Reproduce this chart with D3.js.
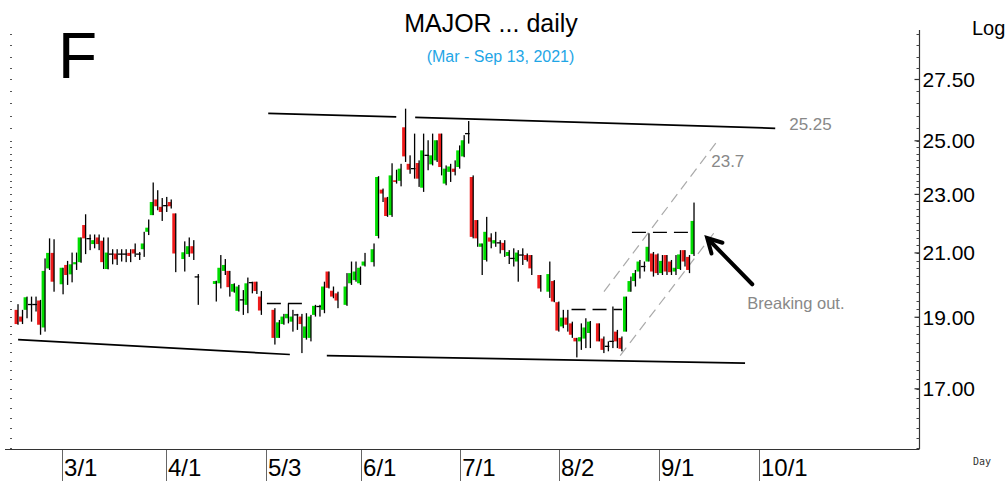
<!DOCTYPE html>
<html><head><meta charset="utf-8">
<script src="https://cdn.jsdelivr.net/npm/d3@7"></script>
<style>body{margin:0;background:#fff;}svg{display:block;}</style>
</head><body>
<svg id="c" width="1008" height="481"></svg>
<script>
// ---- data (one entry per day slot; null = no bar) ----
const open = [19.22,19.02,19.22,19.38,19.38,19.50,18.70,20.50,21.00,null,
20.00,20.61,20.31,20.63,20.70,21.93,21.47,21.29,21.51,21.40,
20.48,20.96,20.98,20.96,20.96,21.00,21.12,20.96,21.12,21.70,
22.27,22.82,22.56,22.60,22.73,22.33,null,20.80,20.96,21.22,
20.23,null,null,null,20.01,20.03,20.42,20.42,19.77,19.19,
19.52,19.37,20.05,20.08,19.62,null,null,19.22,18.40,18.80,
18.97,18.87,19.07,19.02,18.40,18.40,19.07,19.32,19.22,20.40,
19.80,19.72,null,19.37,20.03,20.13,20.03,20.59,null,20.70,
21.56,23.17,22.89,22.27,23.51,23.49,25.53,24.12,23.94,24.15,
23.24,24.44,24.10,24.25,25.28,23.39,23.82,23.94,24.00,24.40,
25.28,23.63,22.10,21.20,20.77,21.51,21.31,21.33,21.33,20.90,
20.82,20.72,20.93,20.93,20.93,null,20.29,null,19.77,20.10,
19.45,18.73,18.99,18.82,18.40,18.30,18.38,18.54,null,18.82,
18.38,18.16,18.30,18.58,18.40,18.58,19.77,20.10,20.40,20.56,
20.72,20.98,20.95,20.35,20.93,20.72,20.40,20.48,21.09,20.87,
20.96];
const high = [19.39,19.22,19.62,19.62,19.62,19.52,20.82,21.48,21.45,null,
20.52,20.74,21.01,21.01,21.51,22.30,21.61,21.61,21.61,21.51,
21.51,21.12,21.12,21.12,21.12,21.12,21.31,21.03,21.70,22.12,
23.43,23.15,22.87,22.91,22.82,22.33,null,21.38,21.51,21.42,
20.32,null,null,null,20.11,20.93,20.80,20.42,20.03,19.98,
19.82,20.21,20.08,20.08,19.79,null,null,19.27,18.92,19.10,
19.40,19.22,19.10,19.10,19.12,19.07,19.37,19.37,20.08,20.40,
19.93,19.77,null,20.35,20.72,20.72,20.56,21.00,null,21.31,
23.66,23.21,22.91,24.14,23.90,24.12,26.28,24.44,25.28,24.25,
25.28,25.02,25.28,25.02,25.28,24.06,24.12,24.25,24.82,25.22,
25.78,23.69,22.10,21.31,22.21,21.65,21.70,21.42,21.42,21.09,
21.15,21.09,21.15,20.98,20.93,null,20.29,null,20.72,20.13,
19.47,19.22,19.22,18.87,18.40,18.82,18.97,18.89,null,18.82,
18.44,18.30,19.32,18.63,18.44,19.62,20.24,20.45,20.77,20.72,
21.65,21.03,20.98,20.93,20.93,20.77,20.93,21.09,21.09,20.93,
22.71];
const low = [18.78,18.80,18.97,18.87,19.17,18.49,18.58,20.45,19.77,null,
19.69,19.98,20.06,20.45,20.68,20.96,21.09,21.15,21.09,20.48,
20.47,20.63,20.61,20.72,20.70,20.70,20.87,20.77,20.87,21.59,
22.27,22.44,22.07,22.38,22.50,20.38,null,20.40,20.87,20.77,
19.37,null,null,null,19.47,19.87,20.29,19.62,19.74,19.17,
19.07,19.12,19.72,19.70,19.07,null,null,18.21,18.40,18.78,
18.82,18.58,18.63,17.97,18.35,18.30,19.02,19.02,19.12,19.87,
19.57,19.27,null,19.34,19.98,20.08,19.98,20.56,null,20.56,
21.48,22.73,22.21,22.21,23.39,23.29,24.19,23.75,23.57,23.27,
23.09,23.88,24.06,24.19,23.69,23.33,23.45,23.69,23.94,24.37,
24.89,21.48,21.20,20.29,20.72,21.15,21.20,20.98,20.87,20.64,
20.56,20.08,20.61,20.72,20.29,null,19.77,null,19.58,19.45,
18.58,18.68,18.58,18.40,17.85,18.06,18.11,18.11,null,18.30,
17.97,18.02,18.11,18.11,18.02,18.58,19.77,19.93,20.18,20.40,
20.72,20.24,20.29,20.29,20.29,20.29,20.29,20.45,20.56,20.35,
20.90];
const close = [18.80,18.87,19.60,19.38,19.38,18.78,20.42,21.00,20.08,null,
20.52,20.29,20.63,20.70,21.51,21.48,21.47,21.42,21.29,20.70,
21.01,20.96,20.79,20.96,20.96,20.90,20.98,20.96,21.31,21.84,
22.73,22.58,22.38,22.60,22.58,20.98,null,21.02,21.22,20.98,
20.23,null,null,null,20.10,20.52,20.61,19.91,20.01,19.93,
19.52,20.03,20.05,19.79,19.20,null,null,18.40,18.85,19.02,
19.10,19.02,19.07,18.80,18.73,19.02,19.34,19.32,19.93,19.89,
19.62,19.50,null,19.93,20.35,20.40,20.52,20.72,null,21.12,
23.63,23.03,22.24,23.69,23.45,23.94,24.40,23.90,23.94,23.57,
24.63,24.44,24.44,25.02,24.00,23.94,24.02,23.82,24.63,25.02,
25.28,21.53,21.48,21.31,21.70,21.37,21.42,21.33,21.09,21.03,
20.82,21.01,20.93,20.77,20.50,null,19.87,null,20.32,19.47,
18.61,18.99,18.78,18.49,18.30,18.42,18.70,18.87,null,18.30,
18.06,18.16,18.30,18.30,18.09,19.62,20.10,20.35,20.72,20.56,
21.20,20.40,20.35,20.74,20.40,20.38,20.52,20.95,20.72,20.45,
22.07];

const monthLabels = ["3/1","4/1","5/3","6/1","7/1","8/2","9/1","10/1"];
const monthSlots  = [10.05,33.1,55.3,76.4,98.4,120.3,142.5,164.7];
const priceTicks  = [17,19,21,23,25,27.5];

// annotation lines in data units: [slot1, price1, slot2, price2]
const resistance = [[55.8,26.09,84.2,25.95],[88.4,25.93,168.3,25.49]];
const support    = [[0.3,18.35,60.6,17.93],[68.8,17.90,161.6,17.69]];
const levels     = [[55.5,19.41,64.6,19.41],[123.1,19.23,134.3,19.23],[136.5,21.68,149.4,21.68]];
const channel    = [[130.3,19.77,155.4,24.98],[133.9,17.90,155.2,21.76]];
const arrowPts   = [163.2,20.0,153.2,21.49];
const notes = [
  {t:"25.25", s:171.4, v:25.66, size:17},
  {t:"23.7",  s:154.1, v:24.22, size:17},
  {t:"Breaking out.", s:162.1, v:19.42, size:16.5}
];

// ---- drawing ----
const svg = d3.select('#c');
const x = d3.scaleLinear().domain([-1.5,200.2]).range([10,919]);
const y = d3.scaleLog().domain([15.48,29.7]).range([449,30]);
const font = "'Liberation Sans', Arial, sans-serif";

// title
svg.append('text').attr('x',491).attr('y',32).attr('text-anchor','middle')
  .style('font-family',font).style('font-size','25px').attr('fill','#000').text('MAJOR ... daily');
svg.append('text').attr('x',500.5).attr('y',62).attr('text-anchor','middle')
  .style('font-family',font).style('font-size','16px').attr('fill','#1fa6e6').text('(Mar - Sep 13, 2021)');
svg.append('text').attr('x',58).attr('y',78)
  .style('font-family',font).style('font-size','64px').attr('fill','#000').text('F');
svg.append('text').attr('x',972).attr('y',35)
  .style('font-family',font).style('font-size','20px').attr('fill','#000').text('Log');
svg.append('text').attr('x',973).attr('y',465)
  .style('font-family',"'DejaVu Sans Mono', monospace").style('font-size','10px').attr('fill','#333').text('Day');

// minor ticks
const minor = [];
for (let v=15.5; v<=29.5+1e-9; v+= (v<25-1e-9?0.25:0.5)) minor.push(+v.toFixed(2));
const axR = svg.append('g');
axR.append('line').attr('x1',919.5).attr('x2',919.5).attr('y1',30).attr('y2',449).attr('stroke','#333').attr('stroke-width',1.2);
axR.selectAll('.mn').data(minor).enter().append('line')
  .attr('x1',916.5).attr('x2',919.5).attr('y1',d=>Math.round(y(d))+0.5).attr('y2',d=>Math.round(y(d))+0.5)
  .attr('stroke','#444').attr('stroke-width',1);
axR.selectAll('.mj').data(priceTicks).enter().append('line')
  .attr('x1',914.5).attr('x2',919.5).attr('y1',d=>y(d)).attr('y2',d=>y(d)).attr('stroke','#333').attr('stroke-width',1.2);
axR.selectAll('.lb').data(priceTicks).enter().append('text')
  .attr('x',922.5).attr('y',d=>y(d)).attr('dy','0.36em')
  .style('font-family',font).style('font-size','21px').attr('fill','#000').text(d=>d.toFixed(2));
// left minor ticks
svg.append('g').selectAll('line').data(minor).enter().append('line')
  .attr('x1',10).attr('x2',12).attr('y1',d=>Math.round(y(d))+0.5).attr('y2',d=>Math.round(y(d))+0.5)
  .attr('stroke','#555').attr('stroke-width',1);

// bottom axis
svg.append('line').attr('x1',5).attr('x2',919.5).attr('y1',449.5).attr('y2',449.5).attr('stroke','#333').attr('stroke-width',1.2);
const gx = svg.append('g');
gx.selectAll('line').data(monthSlots).enter().append('line')
  .attr('x1',d=>Math.round(x(d))+0.5).attr('x2',d=>Math.round(x(d))+0.5).attr('y1',450).attr('y2',481)
  .attr('stroke','#666').attr('stroke-width',1);
gx.selectAll('text').data(monthSlots).enter().append('text')
  .attr('x',d=>x(d)+2).attr('y',476)
  .style('font-family',font).style('font-size','24px').attr('fill','#000').text((d,i)=>monthLabels[i]);

// annotation lines
const ln = (g, segs, stroke, w, dash) => g.selectAll(null).data(segs).enter().append('line')
  .attr('x1',d=>x(d[0])).attr('y1',d=>y(d[1])).attr('x2',d=>x(d[2])).attr('y2',d=>y(d[3]))
  .attr('stroke',stroke).attr('stroke-width',w).attr('stroke-dasharray',dash||null);
const ga = svg.append('g');
ln(ga, resistance, '#000', 1.7);
ln(ga, support, '#000', 1.7);
ln(ga, levels, '#000', 1.3, '14,7');
ln(ga, channel, '#aaa', 1.2, '10,6');

// candles
const idx = d3.range(open.length).filter(i=>open[i]!==null);
const gc = svg.append('g');
idx.forEach(i=>{
  const cx = x(i), o=open[i], c=close[i];
  const col = c>o ? '#00dd00' : (c<o ? '#ee1c1c' : '#000');
  if (c!==o) {
    const top = y(Math.max(o,c)), bot = y(Math.min(o,c));
    gc.append('rect').attr('x',cx-2.2).attr('width',3.4).attr('y',top).attr('height',Math.max(1,bot-top)).attr('fill',col);
  } else {
    gc.append('line').attr('x1',cx-2.4).attr('x2',cx+2.2).attr('y1',y(o)).attr('y2',y(o)).attr('stroke','#000').attr('stroke-width',1.3);
  }
  gc.append('rect').attr('x',cx+0.6).attr('width',1.3).attr('y',y(high[i])).attr('height',Math.max(1,y(low[i])-y(high[i]))).attr('fill','#000');
});

// arrow
const [as,av,hs,hv] = arrowPts;
const tx=x(as), ty=y(av), hx=x(hs), hy=y(hv);
const ang = Math.atan2(ty-hy, tx-hx);
const L=16, spread=0.5;
svg.append('line').attr('x1',tx).attr('y1',ty).attr('x2',hx+2*Math.cos(ang)).attr('y2',hy+2*Math.sin(ang)).attr('stroke','#000').attr('stroke-width',4).attr('stroke-linecap','round');
svg.append('path').attr('d',`M${hx+L*Math.cos(ang+spread)},${hy+L*Math.sin(ang+spread)} L${hx},${hy} L${hx+L*Math.cos(ang-spread)},${hy+L*Math.sin(ang-spread)}`)
  .attr('fill','none').attr('stroke','#000').attr('stroke-width',4).attr('stroke-linecap','round').attr('stroke-linejoin','miter');

// notes
svg.selectAll('.note').data(notes).enter().append('text')
  .attr('x',d=>x(d.s)).attr('y',d=>y(d.v)).attr('dy','0.36em')
  .style('font-family',font).style('font-size',d=>d.size+'px').attr('fill','#888').text(d=>d.t);
</script>
</body></html>
